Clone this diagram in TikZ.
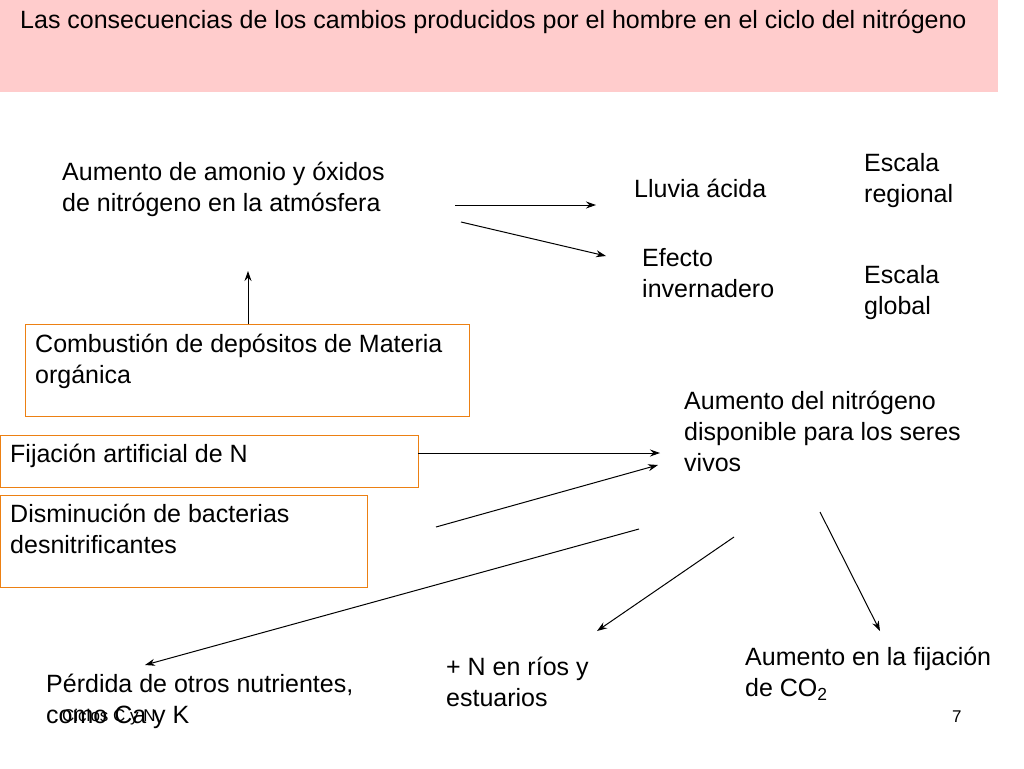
\documentclass[tikz,border=0pt]{standalone}
\usepackage{fontspec}
\setmainfont{Liberation Sans}
\usetikzlibrary{arrows.meta}
\begin{document}
\begin{tikzpicture}[x=1pt,y=-1pt,
 txt/.style={anchor=north west,align=left,inner sep=0pt,font=\fontsize{25}{31}\selectfont},
 box/.style={draw=orange!70!brown,line width=1pt},
 arr/.style={-{Stealth[length=10pt,width=7pt]},line width=1pt}]
\useasboundingbox (0,0) rectangle (1024,768);
\fill[fill={rgb,255:red,255;green,204;blue,204}] (0,0) rectangle (998,92);
\node[txt,font=\fontsize{25}{30}\selectfont] (title) at (20,10) {Las consecuencias de los cambios producidos por el hombre en el ciclo del nitrógeno};
\node[txt] (amonio) at (62,162) {Aumento de amonio y óxidos\\de nitrógeno en la atmósfera};
\node[txt] (lluvia) at (634,179) {Lluvia ácida};
\node[txt] (efecto) at (642,248) {Efecto\\invernadero};
\node[txt] (reg) at (864,153) {Escala\\regional};
\node[txt] (glob) at (864,265) {Escala\\global};
\draw[box] (25,324) rectangle (469,416);
\node[txt] (comb) at (35,334) {Combustión de depósitos de Materia\\orgánica};
\draw[box] (0,435) rectangle (418,487);
\node[txt] (fij) at (10,444) {Fijación artificial de N};
\draw[box] (0,495) rectangle (367,587);
\node[txt] (dism) at (10,504) {Disminución de bacterias\\desnitrificantes};
\node[txt] (aum) at (684,391) {Aumento del nitrógeno\\disponible para los seres\\vivos};
\node[txt] (perd) at (46,674) {Pérdida de otros nutrientes,\\como Ca y K};
\node[txt] (rios) at (446,657) {+ N en ríos y\\estuarios};
\node[txt] (co2) at (745,647) {Aumento en la fijación\\de CO\textsubscript{2}};
\node[anchor=west,inner sep=0pt,font=\fontsize{17}{20}\selectfont] (foot) at (62,717) {Ciclos C y N};
\node[anchor=west,inner sep=0pt,font=\fontsize{17}{20}\selectfont] (num) at (952,717) {7};
\coordinate (a1) at (455,205); \coordinate (a2) at (596,205);
\draw[arr] (a1) -- (a2);
\coordinate (b1) at (461,222); \coordinate (b2) at (606,256);
\draw[arr] (b1) -- (b2);
\coordinate (c1) at (248,324); \coordinate (c2) at (248,271);
\draw[arr] (c1) -- (c2);
\coordinate (d1) at (418,453); \coordinate (d2) at (660,453);
\draw[arr] (d1) -- (d2);
\coordinate (e1) at (436,527); \coordinate (e2) at (658,465);
\draw[arr] (e1) -- (e2);
\coordinate (f1) at (639,529); \coordinate (f2) at (145,665);
\draw[arr] (f1) -- (f2);
\coordinate (g1) at (734,537); \coordinate (g2) at (597,631);
\draw[arr] (g1) -- (g2);
\coordinate (h1) at (820,512); \coordinate (h2) at (880,631);
\draw[arr] (h1) -- (h2);
\end{tikzpicture}
\end{document}
